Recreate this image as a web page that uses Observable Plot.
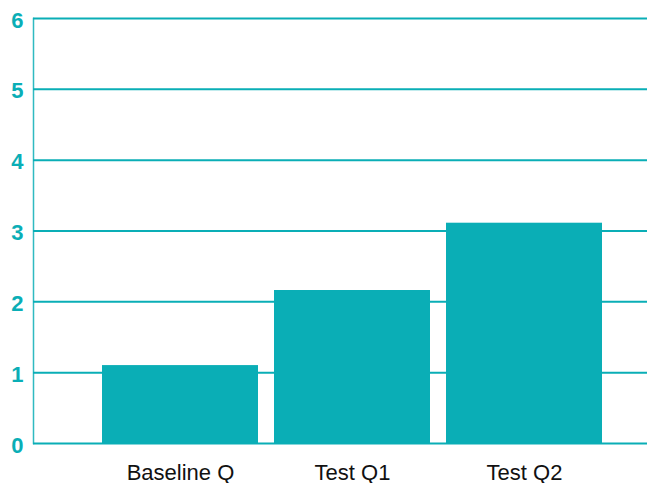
<!DOCTYPE html>
<html>
<head>
<meta charset="utf-8">
<script src="https://cdn.jsdelivr.net/npm/d3@7"></script>
<script src="https://cdn.jsdelivr.net/npm/@observablehq/plot@0.6"></script>
<style>
  html, body { margin: 0; padding: 0; background: #fff; }
  #chart svg { display: block; }
</style>
</head>
<body>
<div id="chart"></div>
<script>
const categories = ["Baseline Q", "Test Q1", "Test Q2"];
const values = [1.1, 2.16, 3.11];
const yTicks = [0, 1, 2, 3, 4, 5, 6];

const data = categories.map((c, i) => ({category: c, value: values[i]}));
const teal = "#0aaeb6";

const chart = Plot.plot({
  width: 647,
  height: 483,
  marginLeft: 33,
  marginRight: 0,
  marginTop: 18,
  marginBottom: 40,
  style: {fontFamily: "'Liberation Sans', Arial, Helvetica, sans-serif", background: "#fff"},
  x: {domain: categories, range: [93, 611], paddingInner: 0.0925, paddingOuter: 0.046, label: null},
  y: {domain: [0, 6], ticks: yTicks, label: null},
  marks: [
    Plot.ruleY(yTicks, {stroke: teal, strokeWidth: 2}),
    Plot.frame({anchor: "left", stroke: teal, strokeWidth: 1.5, strokeOpacity: 0.85}),
    Plot.barY(data, {x: "category", y: "value", fill: teal}),
    Plot.axisY({ticks: yTicks, tickSize: 0, tickPadding: 10, tickFormat: d => String(d),
      fill: teal, fontWeight: "bold", dy: 2}),
    Plot.axisX({tickSize: 0, tickPadding: 21, fill: "#111"})
  ]
});
d3.select(chart).selectAll('g[aria-label="y-axis tick label"] text')
  .style("font-size", "22px").style("font-weight", "bold");
d3.select(chart).selectAll('g[aria-label="x-axis tick label"] text')
  .style("font-size", "22px");
document.getElementById("chart").appendChild(chart);
</script>
</body>
</html>
